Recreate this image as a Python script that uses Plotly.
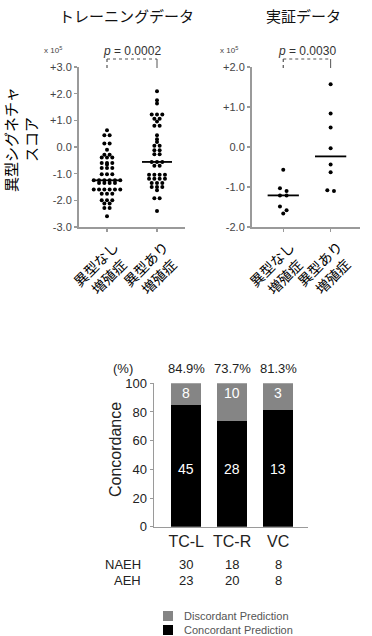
import numpy as np
import plotly.graph_objects as go

W, H = 372, 636

# ---------------- data ----------------
train_title = "トレーニングデータ"
valid_title = "実証データ"
group_labels = ["異型なし<br>増殖症", "異型あり<br>増殖症"]
score_title = "異型シグネチャ<br>スコア"

train_naeh = [0.63, 0.44, 0.44, 0.13, 0.13, -0.1, -0.29, -0.29,
              -0.39, -0.39, -0.39, -0.6, -0.6, -0.6, -0.66,
              -0.79, -0.79, -0.79, -1.02, -1.02, -1.02,
              -1.25, -1.25, -1.25, -1.25, -1.25, -1.25,
              -1.35, -1.35, -1.35, -1.35,
              -1.59, -1.59, -1.59, -1.59, -1.59, -1.59,
              -1.75, -1.75, -1.75, -2.0, -2.0, -2.0,
              -2.12, -2.12, -2.29, -2.29, -2.6]
train_aeh = [2.09, 1.75, 1.63, 1.22, 1.22, 1.22, 1.06, 1.06, 0.96,
             0.8, 0.8, 0.44, 0.29, 0.19, 0.05, 0.05, -0.12, -0.12,
             -0.27, -0.27, -0.56, -0.56, -0.56, -0.7, -0.7,
             -1.04, -1.04, -1.04, -1.04, -1.19, -1.19, -1.19, -1.19,
             -1.35, -1.35, -1.35, -1.5, -1.5, -1.5, -1.62,
             -1.92, -1.92, -2.4]
valid_naeh = [-0.57, -1.03, -1.1, -1.21, -1.21, -1.49, -1.58, -1.66]
valid_aeh = [1.57, 0.84, 0.49, -0.03, -0.44, -0.63, -1.08, -1.1]

train_ticks = [-3, -2, -1, 0, 1, 2, 3]
train_ticktext = ["-3.0", "-2.0", "-1.0", "0.0", "+1.0", "+2.0", "+3.0"]
valid_ticks = [-2, -1, 0, 1, 2]
valid_ticktext = ["-2.0", "-1.0", "0.0", "+1.0", "+2.0"]
p_train = "0.0002"
p_valid = "0.0030"
scale_label = "x 10<sup>5</sup>"

bar_categories = ["TC-L", "TC-R", "VC"]
concordant_pct = [84.9, 73.7, 81.3]
discordant_pct = [15.1, 26.3, 18.7]
concordant_n = [45, 28, 13]
discordant_n = [8, 10, 3]
naeh_n = [30, 18, 8]
aeh_n = [23, 20, 8]
bar_ticks = [0, 20, 40, 60, 80, 100]
legend_names = ["Discordant Prediction", "Concordant Prediction"]

# ---------------- helpers ----------------
JP = "Noto Sans CJK JP"
LAT = "Liberation Sans, Arial, sans-serif"
AX = "#9a9a9a"
C_CON = "black"
C_DIS = "#858585"


def px(x):
    return x / W


def py(y):
    return 1 - y / H


def ann(text, x, y, xref="paper", yref="paper", family=LAT, size=13, color="#222", **kw):
    d = dict(text=text, x=x, y=y, xref=xref, yref=yref, showarrow=False,
             xanchor="center", yanchor="middle",
             font=dict(family=family, size=size, color=color))
    d.update(kw)
    return d


def swarm(values, step, tol):
    vals = np.asarray(values, float)
    order = np.argsort(-vals)
    offs = np.zeros(len(vals))
    groups = []
    for i in order:
        if groups and abs(vals[groups[-1][0]] - vals[i]) <= tol:
            groups[-1].append(i)
        else:
            groups.append([i])
    for g in groups:
        n = len(g)
        for k, i in enumerate(g):
            offs[i] = (k - (n - 1) / 2) * step
    return offs


fig = go.Figure()

panels = [
    (train_naeh, train_aeh, "x", "y", 0.106, 0.03, 0.3),
    (valid_naeh, valid_aeh, "x2", "y2", 0.14, 0.1, 0.33),
]
for g1, g2, xa, ya, step, tol, half in panels:
    for gi, vals in enumerate([g1, g2]):
        offs = swarm(vals, step, tol)
        fig.add_trace(go.Scatter(
            x=gi + offs, y=vals, mode="markers", xaxis=xa, yaxis=ya,
            marker=dict(color="black", size=4), showlegend=False,
            hoverinfo="skip"))
        med = float(np.median(vals))
        fig.add_trace(go.Scatter(
            x=[gi - half, gi + half], y=[med, med], mode="lines",
            xaxis=xa, yaxis=ya, line=dict(color="black", width=1.8),
            showlegend=False, hoverinfo="skip"))

# stacked bars
xpos = list(range(len(bar_categories)))
fig.add_trace(go.Bar(x=xpos, y=concordant_pct, width=0.65, name=legend_names[1],
                     marker=dict(color=C_CON, line=dict(width=0)), showlegend=False,
                     xaxis="x3", yaxis="y3", hoverinfo="skip"))
fig.add_trace(go.Bar(x=xpos, y=discordant_pct, width=0.65, name=legend_names[0],
                     marker=dict(color=C_DIS, line=dict(width=0)), showlegend=False,
                     xaxis="x3", yaxis="y3", hoverinfo="skip"))

tickfont_small = dict(family=LAT, size=11, color="#444")
common_y = dict(showgrid=False, zeroline=False, showline=True, linecolor=AX, linewidth=2,
                ticks="outside", ticklen=3, tickcolor=AX, tickwidth=1.5, automargin=False)
common_x = dict(showgrid=False, zeroline=False, showline=True, linecolor=AX, linewidth=2,
                ticks="outside", ticklen=3, tickcolor=AX, tickwidth=1.5,
                showticklabels=False, tickvals=[0, 1], automargin=False)

annotations = []
shapes = []

annotations += [
    ann(train_title, px(127), py(15), family=JP, size=15, color="#111"),
    ann(valid_title, px(303), py(15), family=JP, size=15, color="#111"),
    ann(score_title, px(21), py(140), family=JP, size=15, color="#000", textangle=-90),
    ann(scale_label, px(53), py(50), size=8, color="#444"),
    ann(scale_label, px(229), py(50), size=8, color="#444"),
]
for xa, pv in [("x", p_train), ("x2", p_valid)]:
    annotations.append(ann("<i>p</i> = " + pv, 0.5, py(51), xref=xa, size=12, color="#333"))
    shapes += [
        dict(type="line", xref=xa, yref="paper", x0=0, x1=1, y0=py(59), y1=py(59),
             line=dict(color="#555", width=1.2, dash="dot")),
        dict(type="line", xref=xa, yref="paper", x0=0, x1=0, y0=py(59), y1=py(68),
             line=dict(color="#555", width=1.2, dash="dot")),
        dict(type="line", xref=xa, yref="paper", x0=1, x1=1, y0=py(59), y1=py(68),
             line=dict(color="#555", width=1)),
    ]
    for gi, lab in enumerate(group_labels):
        annotations.append(ann(lab, gi, py(234), xref=xa, family=JP, size=14, color="#000",
                               yanchor="top", xshift=-5, textangle=-45))

# bar annotations
annotations.append(ann("(%)", px(123), py(368)))
annotations.append(ann("Concordance", px(116), py(450), size=16, textangle=-90))
annotations.append(ann("NAEH", px(143), py(564), xanchor="right"))
annotations.append(ann("AEH", px(143), py(580), xanchor="right"))
for i in xpos:
    annotations += [
        ann(f"{concordant_pct[i]}%", i, py(368), xref="x3"),
        ann(str(concordant_n[i]), i, 40, xref="x3", yref="y3", size=14, color="white"),
        ann(str(discordant_n[i]), i, 93, xref="x3", yref="y3", size=14, color="white"),
        ann(str(naeh_n[i]), i, py(564), xref="x3"),
        ann(str(aeh_n[i]), i, py(580), xref="x3"),
    ]

# manual legend
for k, (name, col) in enumerate(zip(legend_names, [C_DIS, C_CON])):
    yc = 616 + 14 * k
    shapes.append(dict(type="rect", xref="paper", yref="paper",
                       x0=px(163), x1=px(173), y0=py(yc + 5), y1=py(yc - 5),
                       fillcolor=col, line=dict(width=0)))
    annotations.append(ann(name, px(182), py(yc), xanchor="left", size=11, color="#555"))

fig.update_layout(
    template="none",
    width=W, height=H, autosize=False,
    margin=dict(l=0, r=0, t=0, b=0, pad=0),
    paper_bgcolor="white", plot_bgcolor="white",
    barmode="stack", bargap=0,
    showlegend=False,
    xaxis=dict(domain=[px(79), px(185)], range=[-0.56, 1.56], anchor="y", **common_x),
    yaxis=dict(domain=[py(227), py(67)], range=[-3, 3], anchor="x",
               tickvals=train_ticks, ticktext=train_ticktext, tickfont=tickfont_small, **common_y),
    xaxis2=dict(domain=[px(252), px(360)], range=[-0.66, 1.62], anchor="y2", **common_x),
    yaxis2=dict(domain=[py(227), py(67)], range=[-2, 2], anchor="x2",
                tickvals=valid_ticks, ticktext=valid_ticktext, tickfont=tickfont_small, **common_y),
    xaxis3=dict(domain=[px(154), px(308)], range=[-0.7, 2.65], anchor="y3",
                showgrid=False, zeroline=False, showline=True, linecolor=AX, linewidth=1.5,
                ticks="", tickvals=xpos, ticktext=bar_categories, automargin=False,
                tickfont=dict(family=LAT, size=16, color="#222")),
    yaxis3=dict(domain=[py(526.7), py(383.3)], range=[0, 100], anchor="x3",
                showgrid=False, zeroline=False, showline=True, linecolor=AX, linewidth=1.5,
                ticks="outside", ticklen=3, tickcolor=AX, tickvals=bar_ticks, automargin=False,
                tickfont=dict(family=LAT, size=13, color="#222")),
    annotations=annotations,
    shapes=shapes,
)

fig.write_html("out.html", config={"displayModeBar": False, "staticPlot": True},
               post_script="document.body.style.margin='0';document.body.style.overflow='hidden';")
